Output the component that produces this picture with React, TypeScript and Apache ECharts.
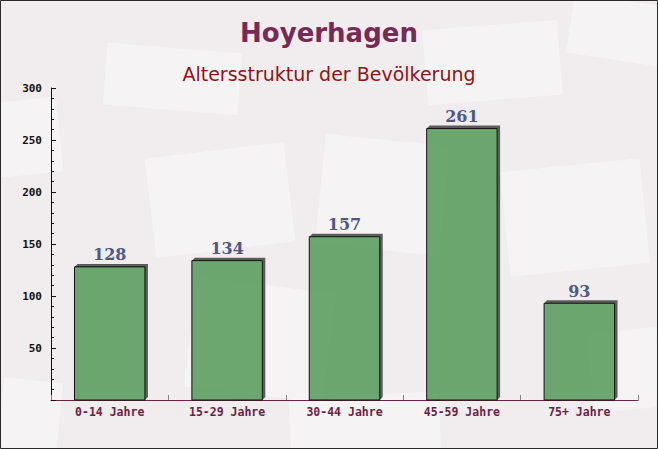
import React, { useEffect, useRef } from "react";
import * as echarts from "echarts";

const categories = ["0-14 Jahre", "15-29 Jahre", "30-44 Jahre", "45-59 Jahre", "75+ Jahre"];
const values = [128, 134, 157, 261, 93];
const yTicks = { min: 0, max: 300, interval: 50 };
const titleText = "Hoyerhagen";
const subtitleText = "Altersstruktur der Bevölkerung";

const envelopes = [
  { x: 105, y: 48, w: 135, h: 62, r: -0.08 },
  { x: 150, y: 150, w: 140, h: 100, r: 0.12 },
  { x: 320, y: 140, w: 125, h: 110, r: -0.1 },
  { x: 505, y: 165, w: 140, h: 105, r: 0.1 },
  { x: 425, y: 25, w: 135, h: 75, r: 0.08 },
  { x: 570, y: 0, w: 95, h: 60, r: -0.15 },
  { x: -10, y: 100, w: 70, h: 75, r: 0.1 },
  { x: 190, y: 285, w: 140, h: 110, r: -0.12 },
  { x: 290, y: 395, w: 150, h: 60, r: 0.05 },
  { x: 0, y: 380, w: 60, h: 70, r: -0.1 },
  { x: 590, y: 330, w: 70, h: 80, r: 0.1 },
];

export default function App() {
  const ref = useRef<HTMLDivElement>(null);
  useEffect(() => {
    if (!ref.current) return;
    const chart = echarts.init(ref.current, undefined, { renderer: "svg" });
    const D = 3;
    const option: any = {
      animation: false,
      backgroundColor: "#f1eced",
      graphic: [
        ...envelopes.map((e) => ({
          type: "rect",
          z: -10,
          silent: true,
          x: e.x + e.w / 2,
          y: e.y + e.h / 2,
          rotation: e.r,
          shape: { x: -e.w / 2, y: -e.h / 2, width: e.w, height: e.h },
          style: { fill: "rgba(255,255,255,0.4)" },
        })),
        {
          type: "rect",
          z: 100,
          silent: true,
          shape: { x: 0.5, y: 0.5, width: 657, height: 448 },
          style: { fill: "none", stroke: "#2a2a2a", lineWidth: 1 },
        },
      ],
      title: [
        {
          text: titleText,
          left: "center",
          top: 15,
          textStyle: { fontFamily: "DejaVu Sans", fontWeight: "bold", fontSize: 26, color: "#772a55" },
        },
        {
          text: subtitleText,
          left: "center",
          top: 59,
          textStyle: { fontFamily: "DejaVu Sans", fontWeight: "normal", fontSize: 19, color: "#8e1414" },
        },
      ],
      grid: { left: 51, right: 20, top: 88, bottom: 49 },
      xAxis: {
        type: "category",
        data: categories,
        axisLine: { lineStyle: { color: "#6b2445", width: 1 } },
        axisTick: { show: true, inside: true, length: 5, lineStyle: { color: "#8a8080" } },
        axisLabel: {
          fontFamily: "DejaVu Sans Mono",
          fontWeight: "bold",
          fontSize: 11.5,
          color: "#6b1f45",
          margin: 6,
        },
      },
      yAxis: {
        type: "value",
        min: yTicks.min,
        max: yTicks.max,
        interval: yTicks.interval,
        splitLine: { show: false },
        axisLine: { show: true, lineStyle: { color: "#111", width: 1 } },
        axisTick: { show: true, inside: true, length: 5, lineStyle: { color: "#111" } },
        minorTick: { show: true, splitNumber: 5, length: 3, lineStyle: { color: "#111" } },
        axisLabel: {
          fontFamily: "DejaVu Sans Mono",
          fontWeight: "bold",
          fontSize: 11,
          color: "#111",
          margin: 9,
          formatter: (v: number) => (v === 0 ? "" : String(v)),
        },
      },
      series: [
        {
          type: "custom",
          data: values.map((v, i) => [i, v]),
          encode: { x: 0, y: 1 },
          renderItem: (params: any, api: any) => {
            const idx = api.value(0);
            const v = api.value(1);
            const top = api.coord([idx, v]);
            const base = api.coord([idx, 0]);
            const w = api.size([1, 0])[0] * 0.6;
            const x0 = top[0] - w / 2;
            const x1 = top[0] + w / 2;
            const y0 = top[1];
            const y1 = base[1];
            return {
              type: "group",
              children: [
                {
                  type: "polygon",
                  shape: {
                    points: [
                      [x0, y0],
                      [x0 + D, y0 - D],
                      [x1 + D, y0 - D],
                      [x1 + D, y1 - D],
                      [x1, y1],
                      [x1, y0],
                    ],
                  },
                  style: { fill: "#5c5c5c" },
                },
                {
                  type: "rect",
                  shape: { x: x0, y: y0, width: w, height: y1 - y0 },
                  style: { fill: "rgba(76,150,80,0.82)", stroke: "#111", lineWidth: 1 },
                },
                {
                  type: "text",
                  x: top[0],
                  y: y0 - D - 1,
                  style: {
                    text: String(v),
                    fill: "#4d5985",
                    font: 'bold 16px "DejaVu Serif"',
                    align: "center",
                    verticalAlign: "bottom",
                  },
                },
              ],
            };
          },
        },
      ],
    };
    chart.setOption(option);
    return () => chart.dispose();
  }, []);
  return (
    <div
      ref={ref}
      style={{ position: "absolute", left: 0, top: 0, width: 658, height: 449 }}
    />
  );
}
